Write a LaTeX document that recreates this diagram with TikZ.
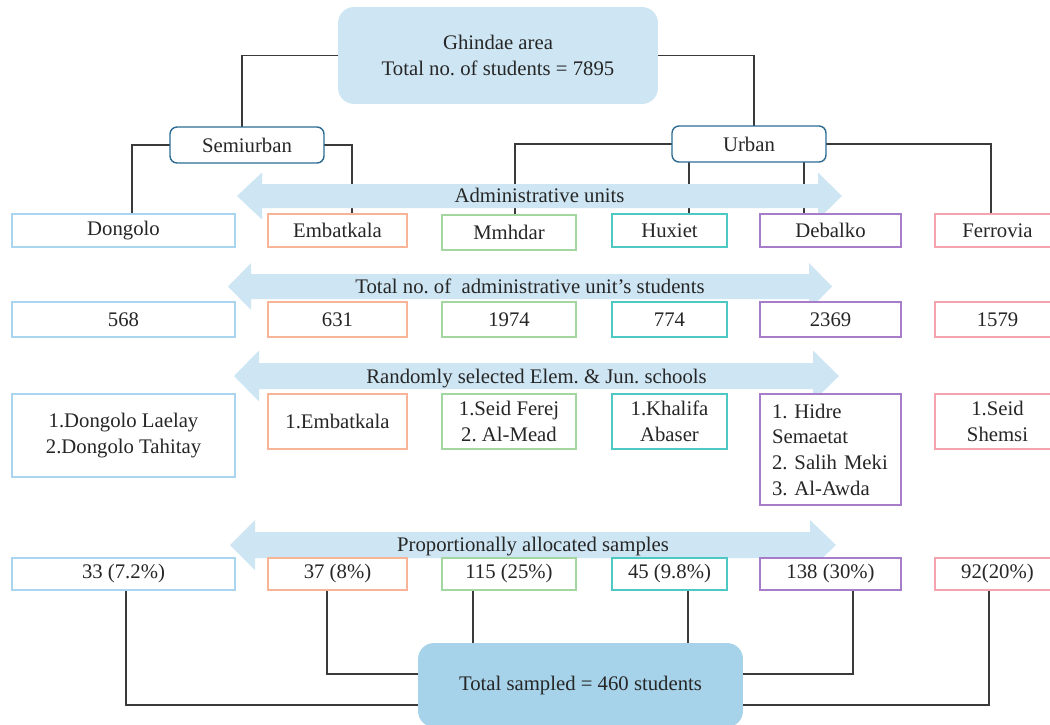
\documentclass[tikz,border=0pt]{standalone}
\usepackage{fontspec}
\setmainfont{Liberation Serif}
\usepackage{xcolor}
\usepackage{tikz}
\usetikzlibrary{calc, backgrounds}

\definecolor{bandblue}{HTML}{CEE6F3}
\definecolor{totalblue}{HTML}{A6D3EA}
\definecolor{zoneline}{HTML}{2C6B92}
\definecolor{wire}{HTML}{3A3A3A}
\definecolor{cDongolo}{HTML}{A9D5EE}
\definecolor{cEmbat}{HTML}{F7B497}
\definecolor{cMmhdar}{HTML}{A3D6A0}
\definecolor{cHuxiet}{HTML}{4EC8C2}
\definecolor{cDebalko}{HTML}{A77CC8}
\definecolor{cFerro}{HTML}{F6A3B0}

\tikzset{
  unitbox/.style={draw, fill=white, line width=0.8pt, inner sep=2pt, outer sep=0pt, align=center},
  zonebox/.style={draw=zoneline, fill=white, line width=0.8pt, rounded corners=0.14cm,
    minimum width=3.08cm, minimum height=0.72cm, outer sep=0pt},
  bigbox/.style={rounded corners=0.32cm, outer sep=0pt, align=center},
  wireline/.style={draw=wire, line width=0.7pt},
  bandlabel/.style={anchor=base}
}

\begin{document}
\begin{tikzpicture}[x=0.02cm, y=-0.02cm, text=black!85, font=\fontsize{11.8}{14.6}\selectfont\frenchspacing]
    \useasboundingbox (0,0) rectangle (1050,724);

    % Study area and zones
    \node[bigbox, fill=bandblue, minimum width=6.4cm, minimum height=1.94cm] (area) at (498,55.5)
      {Ghindae area\\Total no. of students = 7895};
    \node[zonebox] (semi) at (247,145) {Semiurban};
    \node[zonebox] (urban) at (749,144) {Urban};

    % Administrative units
    \node[unitbox, draw=cDongolo, minimum width=4.46cm, minimum height=0.66cm] (u1) at (123.5,230.5) {Dongolo};
    \node[unitbox, draw=cEmbat, minimum width=2.78cm, minimum height=0.66cm] (u2) at (337.5,230.5) {Embatkala};
    \node[unitbox, draw=cMmhdar, minimum width=2.68cm, minimum height=0.7cm] (u3) at (509,232.5) {Mmhdar};
    \node[unitbox, draw=cHuxiet, minimum width=2.3cm, minimum height=0.66cm] (u4) at (669.5,230.5) {Huxiet};
    \node[unitbox, draw=cDebalko, minimum width=2.82cm, minimum height=0.66cm] (u5) at (830.5,230.5) {Debalko};
    \node[unitbox, draw=cFerro, minimum width=2.5cm, minimum height=0.66cm] (u6) at (997.5,230.5) {Ferrovia};

    % Students per unit
    \node[unitbox, draw=cDongolo, minimum width=4.46cm, minimum height=0.7cm] (n1) at (123.5,319.5) {568};
    \node[unitbox, draw=cEmbat, minimum width=2.78cm, minimum height=0.7cm] (n2) at (337.5,319.5) {631};
    \node[unitbox, draw=cMmhdar, minimum width=2.68cm, minimum height=0.7cm] (n3) at (509,319.5) {1974};
    \node[unitbox, draw=cHuxiet, minimum width=2.3cm, minimum height=0.7cm] (n4) at (669.5,319.5) {774};
    \node[unitbox, draw=cDebalko, minimum width=2.82cm, minimum height=0.7cm] (n5) at (830.5,319.5) {2369};
    \node[unitbox, draw=cFerro, minimum width=2.5cm, minimum height=0.7cm] (n6) at (997.5,319.5) {1579};

    % Selected schools
    \node[unitbox, draw=cDongolo, minimum width=4.46cm, minimum height=1.66cm] (sc1) at (123.5,435.5)
      {1.Dongolo Laelay\\2.Dongolo Tahitay};
    \node[unitbox, draw=cEmbat, minimum width=2.78cm, minimum height=1.1cm] (sc2) at (337.5,421.5) {1.Embatkala};
    \node[unitbox, draw=cMmhdar, minimum width=2.68cm, minimum height=1.1cm] (sc3) at (509,421.5) {1.Seid Ferej\\2. Al-Mead};
    \node[unitbox, draw=cHuxiet, minimum width=2.3cm, minimum height=1.1cm] (sc4) at (669.5,421.5) {1.Khalifa\\Abaser};
    \node[unitbox, draw=cDebalko, text width=2.34cm, inner xsep=0.24cm, minimum height=2.22cm, align=left] (sc5) at (830.5,449.5)
      {1. Hidre\\Semaetat\\2. Salih Meki\\3. Al-Awda};
    \node[unitbox, draw=cFerro, minimum width=2.5cm, minimum height=1.1cm] (sc6) at (997.5,421.5) {1.Seid\\Shemsi};

    % Allocated samples
    \node[unitbox, draw=cDongolo, minimum width=4.46cm, minimum height=0.64cm] (sm1) at (123.5,574) {33 (7.2\%)};
    \node[unitbox, draw=cEmbat, minimum width=2.78cm, minimum height=0.64cm] (sm2) at (337.5,574) {37 (8\%)};
    \node[unitbox, draw=cMmhdar, minimum width=2.68cm, minimum height=0.64cm] (sm3) at (509,574) {115 (25\%)};
    \node[unitbox, draw=cHuxiet, minimum width=2.3cm, minimum height=0.64cm] (sm4) at (669.5,574) {45 (9.8\%)};
    \node[unitbox, draw=cDebalko, minimum width=2.82cm, minimum height=0.64cm] (sm5) at (830.5,574) {138 (30\%)};
    \node[unitbox, draw=cFerro, minimum width=2.5cm, minimum height=0.64cm] (sm6) at (997.5,574) {92(20\%)};

    \node[bigbox, fill=totalblue, minimum width=6.5cm, minimum height=1.68cm] (total) at (580.5,685)
      {Total sampled = 460 students};

    % Band labels
    \node[bandlabel] (lab1) at (539.5,202) {Administrative units};
    \node[bandlabel] (lab2) at (530,293) {Total no. of~ administrative unit's students};
    \node[bandlabel] (lab3) at (536.5,383) {Randomly selected Elem. \& Jun. schools};
    \node[bandlabel] (lab4) at (533,551) {Proportionally allocated samples};

    \begin{pgfonlayer}{background}
      % Tree connectors
      \draw[wireline] (area.west) -| ($(semi.north)+(-5,0)$);
      \draw[wireline] (area.east) -| ($(urban.north)+(5,0)$);
      \draw[wireline] (semi.west) -| ($(u1.north)+(8.5,0)$);
      \draw[wireline] (semi.east) -| ($(u2.north)+(14.5,0)$);
      \draw[wireline] (urban.west) -| ($(u3.north)+(6,0)$);
      \draw[wireline] (urban.east) -| ($(u6.north)+(-6.5,0)$);
      \coordinate (hx) at ($(u4.north)+(19.5,0)$);
      \coordinate (db) at ($(u5.north)+(-26.5,0)$);
      \draw[wireline] (hx) -- (hx |- urban.south);
      \draw[wireline] (db) -- (db |- urban.south);

      % Sample connectors
      \draw[wireline] ($(sm1.south)+(2.5,0)$) |- ($(total.west)+(0,20)$);
      \draw[wireline] ($(sm2.south)+(-10.5,0)$) |- ($(total.west)+(0,-11)$);
      \coordinate (k3) at ($(sm3.south)+(-36,0)$);
      \coordinate (k4) at ($(sm4.south)+(18.5,0)$);
      \draw[wireline] (k3) -- (k3 |- total.north);
      \draw[wireline] (k4) -- (k4 |- total.north);
      \draw[wireline] ($(sm5.south)+(22.5,0)$) |- ($(total.east)+(0,-11)$);
      \draw[wireline] ($(sm6.south)+(-8.5,0)$) |- ($(total.east)+(0,20)$);

      % Double headed bands
      \foreach \cy/\xa/\xb/\xc/\xd/\sh/\hh in {196/237/262/818/842/12/23.5, 286.5/228/251/809/832/12.5/23.5,
          376/234/259/813/839/13/25.5, 545/230/255/810/836/13/25}
        \fill[bandblue] (\xa,\cy) -- (\xb,\cy-\hh) -- (\xb,\cy-\sh) -- (\xc,\cy-\sh) -- (\xc,\cy-\hh)
          -- (\xd,\cy) -- (\xc,\cy+\hh) -- (\xc,\cy+\sh) -- (\xb,\cy+\sh) -- (\xb,\cy+\hh) -- cycle;
    \end{pgfonlayer}
\end{tikzpicture}
\end{document}
